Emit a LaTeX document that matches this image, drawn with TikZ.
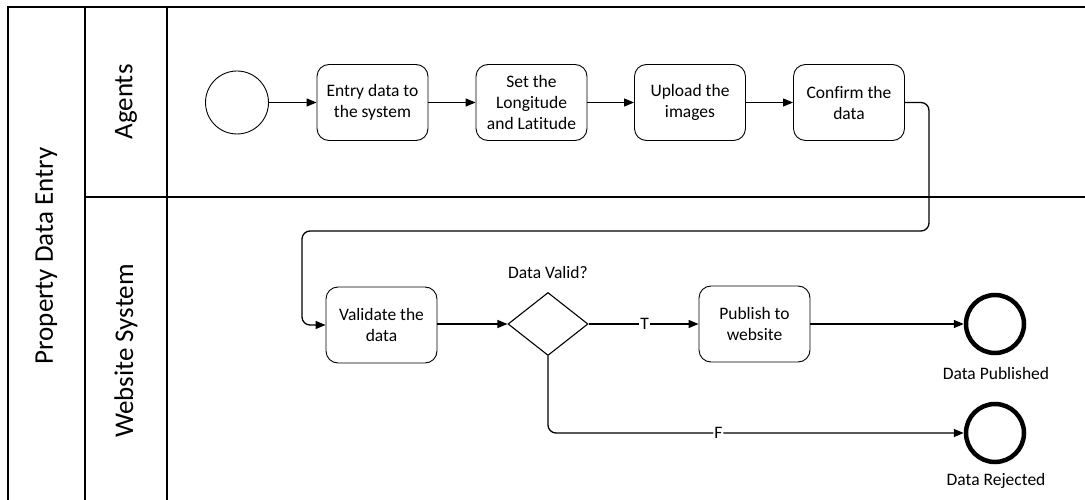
\documentclass[tikz,border=0pt]{standalone}
\usepackage{fontspec}
\setmainfont{Carlito}[Ligatures={NoCommon}]
\usetikzlibrary{arrows.meta,shapes.geometric}
\tikzset{
  pool/.style={line width=1.7pt},
  task/.style={draw, line width=0.9pt, rounded corners=12pt, minimum width=111pt, minimum height=76pt, align=center, inner sep=2pt, font=\fontsize{17.5}{21}\selectfont},
  startev/.style={draw, circle, line width=0.9pt, minimum size=63pt, inner sep=0pt},
  endev/.style={draw, circle, line width=4.5pt, minimum size=58pt, inner sep=0pt},
  gateway/.style={draw, diamond, line width=1.1pt, minimum width=80pt, minimum height=63pt, inner sep=0pt},
  flow/.style={line width=1.3pt, -{Triangle[length=10pt,width=8pt]}},
  lbl/.style={font=\fontsize{17.5}{21}\selectfont, inner sep=1pt},
  flowlbl/.style={font=\fontsize{17.5}{21}\selectfont, fill=white, inner sep=1pt},
  lanelbl/.style={font=\fontsize{27}{32}\selectfont, rotate=90, inner sep=0pt}
}
\begin{document}
\begin{tikzpicture}[x=1pt,y=-1pt]
\useasboundingbox[fill=white] (0,0) rectangle (1085,500);
\clip (0,0) rectangle (1085,500);
% pool and lanes
\draw[pool] (8,515) -- (8,7) -- (1095,7);
\draw[pool] (85,7) -- (85,515);
\draw[pool] (167,7) -- (167,515);
\draw[pool] (85,197) -- (1095,197);
\node[lanelbl] (pooltitle) at (46.5,256) {Property Data Entry};
\node[lanelbl] (lane1) at (126,102) {Agents};
\node[lanelbl] (lane2) at (126,351) {Website System};
% nodes
\node[startev] (start) at (237,102.5) {};
\node[task] (t1) at (372.5,102.5) {Entry data to\\the system};
\node[task] (t2) at (531.5,102.5) {Set the\\Longitude\\and Latitude};
\node[task] (t3) at (690,102.5) {Upload the\\images};
\node[task] (t4) at (849,102.5) {Confirm the\\data};
\node[task] (t5) at (381.5,325) {Validate the\\data};
\node[gateway] (gw) at (548,324) {};
\node[lbl] (gwlbl) at (548,272) {Data Valid?};
\node[task] (t6) at (754.5,324) {Publish to\\website};
\node[endev] (e1) at (995,324) {};
\node[lbl] (e1lbl) at (996,373) {Data Published};
\node[endev] (e2) at (995,433) {};
\node[lbl] (e2lbl) at (996,481) {Data Rejected};
% connectors
\draw[flow] (start) -- (t1);
\draw[flow] (t1) -- (t2);
\draw[flow] (t2) -- (t3);
\draw[flow] (t3) -- (t4);
\coordinate (c1) at (929,231);
\coordinate (c2) at (302,231);
\draw[flow, rounded corners=8pt] (t4.east) -| (c1) -- (c2) |- (t5.west);
\draw[flow] (t5.east |- gw.west) -- (gw.west);
\draw[flow] (gw.east) -- node[flowlbl, pos=0.51] {T} (t6.west |- gw.east);
\draw[flow] (t6.east) -- (e1.west);
\coordinate (c3) at (548,433);
\draw[flow, rounded corners=8pt] (gw.south) -- (c3) -- node[flowlbl, pos=0.41] {F} (e2.west);
\end{tikzpicture}
\end{document}
